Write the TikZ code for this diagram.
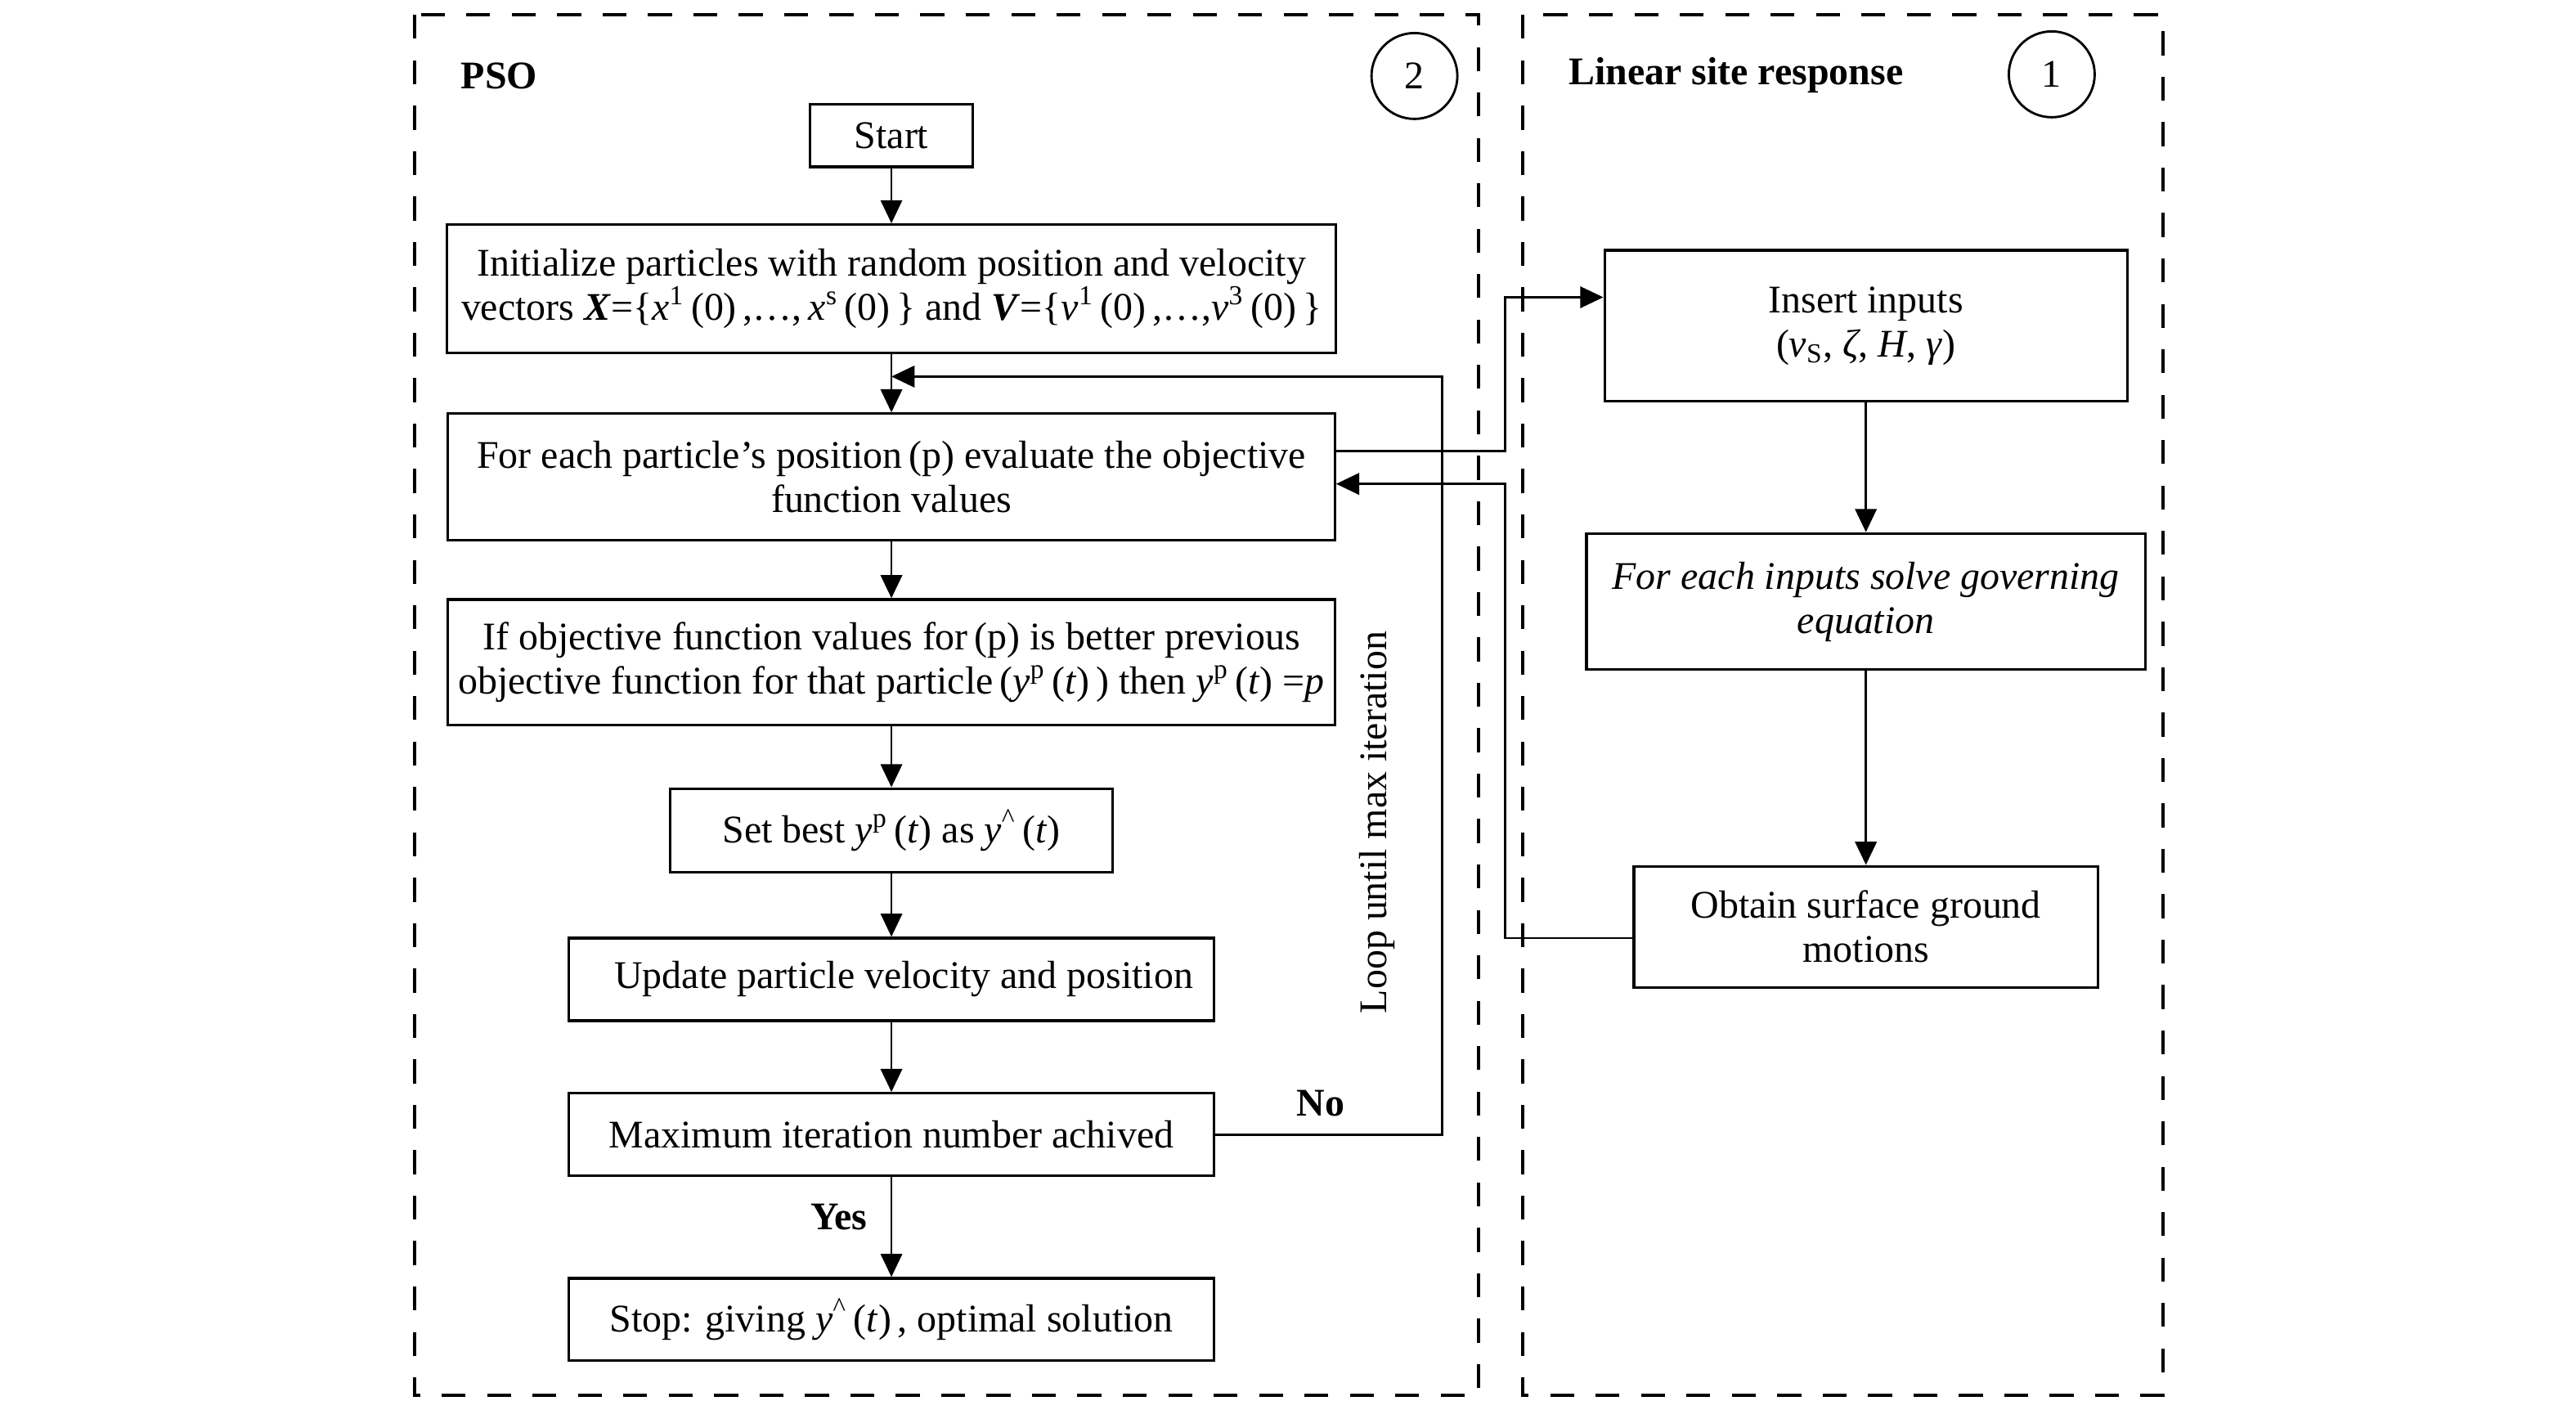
\documentclass[tikz,border=0pt]{standalone}
\usepackage{fontspec}
\setmainfont{Liberation Serif}
\usetikzlibrary{arrows.meta,calc}
\newcommand{\fs}{\fontsize{13.5}{15.2}\selectfont}
\newcommand{\yp}{\textit{y}\textsuperscript{p}}
\newcommand{\yhat}{\textit{y}\textsuperscript{\char"5E}}
\begin{document}
\begin{tikzpicture}[x=0.996cm,y=1cm,
  box/.style={draw, line width=0.9pt, align=center, inner sep=0pt, font=\fs},
  arr/.style={line width=0.8pt, -{Triangle[length=2.8mm,width=2.6mm]}},
  frame/.style={line width=1.1pt, dash pattern=on 0.29cm off 0.26cm},
  ttl/.style={font=\fs\bfseries, inner sep=0pt},
  num/.style={draw, circle, line width=0.8pt, minimum size=1.04cm, inner sep=0pt, font=\fs}]
\useasboundingbox (0cm,0cm) rectangle (31.2cm,-17.075cm);

% frames
\draw[frame] (5.04,-0.18) rectangle (17.98,-16.9);
\draw[frame] (18.52,-0.18) rectangle (26.30,-16.9);

% titles
\node[ttl, anchor=west] (pso) at (5.6,-0.92) {PSO};
\node[num] (c2) at (17.2,-0.92) {2};
\node[ttl, anchor=west] (lsr) at (19.07,-0.91) {Linear site response};
\node[num] (c1) at (24.95,-0.90) {1};

% PSO boxes
\node[box, minimum width=1.97cm, minimum height=0.76cm] (start) at (10.84,-1.64) {Start};
\node[box, minimum width=10.76cm, minimum height=1.55cm] (init) at (10.84,-3.495)
  {Initialize particles with random position and velocity\\
   vectors \textbf{\textit{X}}=\{\textit{x}\textsuperscript{1}\,(0)\,,\dots,\,\textit{x}\textsuperscript{s}\,(0)\,\} and \textbf{\textit{V}}=\{\textit{v}\textsuperscript{1}\,(0)\,,\dots,\textit{v}\textsuperscript{3}\,(0)\,\}};
\node[box, minimum width=10.74cm, minimum height=1.53cm] (eval) at (10.84,-5.775)
  {For each particle’s position\,(p) evaluate the objective\\function values};
\node[box, minimum width=10.74cm, minimum height=1.52cm] (ifb) at (10.84,-8.02)
  {If objective function values for\,(p) is better previous\\
   objective function for that particle\,(\yp\,(\textit{t})\,) then \yp\,(\textit{t}) =\textit{p}};
\node[box, minimum width=5.36cm, minimum height=1.01cm] (setb) at (10.84,-10.055)
  {Set best \yp\,(\textit{t}) as \yhat\,(\textit{t})};
\node[box, minimum width=7.81cm, minimum height=1.0cm] (upd) at (10.84,-11.86)
  {\hspace*{0.3cm}Update particle velocity and position};
\node[box, minimum width=7.81cm, minimum height=1.0cm] (maxb) at (10.84,-13.74)
  {Maximum iteration number achived};
\node[box, minimum width=7.81cm, minimum height=1.0cm] (stop) at (10.84,-15.98)
  {Stop: giving \yhat\,(\textit{t})\,, optimal solution};

% right boxes
\node[box, minimum width=6.33cm, minimum height=1.83cm] (insert) at (22.69,-3.945)
  {Insert inputs\\(\textit{v}\textsubscript{S}, \textit{ζ}, \textit{H}, \textit{γ})};
\node[box, minimum width=6.77cm, minimum height=1.65cm] (solve) at (22.69,-7.285)
  {\textit{For each inputs solve governing}\\\textit{equation}};
\node[box, minimum width=5.62cm, minimum height=1.47cm] (obtain) at (22.69,-11.225)
  {Obtain surface ground\\motions};

% labels
\node[rotate=90, font=\fs, inner sep=0pt] (loop) at (16.75,-9.96) {Loop until max iteration};
\node[ttl] (no) at (16.06,-13.36) {No};
\node[ttl] (yes) at (10.2,-14.74) {Yes};

% main flow
\draw[arr] (start) -- (init);
\draw[arr] (init) -- (eval);
\draw[arr] (eval) -- (ifb);
\draw[arr] (ifb) -- (setb);
\draw[arr] (setb) -- (upd);
\draw[arr] (upd) -- (maxb);
\draw[arr] (maxb) -- (stop);
\draw[arr] (insert) -- (solve);
\draw[arr] (solve) -- (obtain);

% loop back
\coordinate (lc) at (17.54,-4.56);
\coordinate (lend) at (10.84,-4.56);
\draw[arr] (maxb.east) -| (lc) -- (lend);

% eval -> insert
\coordinate (ja) at (18.3,-5.46);
\coordinate (jb) at (18.3,-3.60);
\draw[arr] (eval.east |- ja) -- (ja) -- (jb) -- (insert.west |- jb);

% obtain -> eval
\coordinate (jc) at (18.3,-11.36);
\coordinate (jd) at (18.3,-5.86);
\draw[arr] (obtain.west |- jc) -- (jc) -- (jd) -- (eval.east |- jd);
\end{tikzpicture}
\end{document}
